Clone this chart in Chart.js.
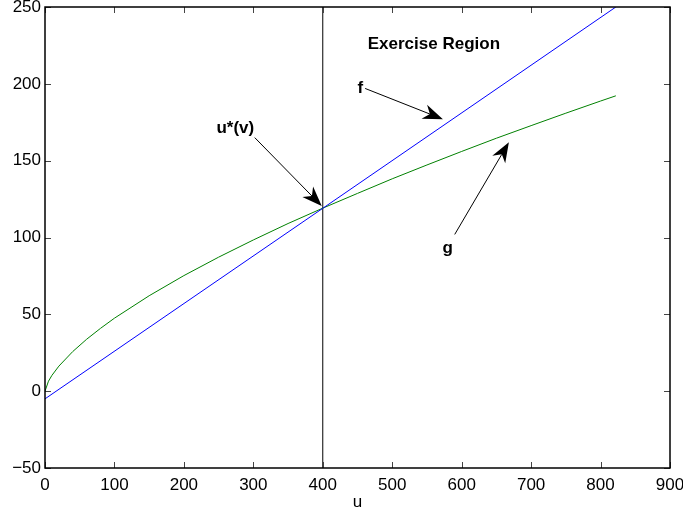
<!DOCTYPE html>
<html>
<head>
<meta charset="utf-8">
<script src="https://cdn.jsdelivr.net/npm/chart.js@4/dist/chart.umd.min.js"></script>
<style>
  html, body { margin: 0; padding: 0; background: #fff; }
  #wrap { width: 683px; height: 519px; position: relative; }
</style>
</head>
<body>
<div id="wrap"><canvas id="chart"></canvas></div>
<script>
// Datos
const uG = [0, 5, 10, 20, 40, 60, 80, 100, 150, 200, 250, 300, 350, 400, 450, 500, 550, 600, 650, 700, 750, 800, 822];
const gVals = [0, 6.5, 10.3, 16.3, 25.8, 33.8, 40.9, 47.5, 62.1, 75.2, 87.2, 98.4, 109.1, 119.1, 128.7, 138.2, 147.2, 156.0, 164.6, 172.8, 180.9, 188.8, 192.2];
const uF = [0, 400, 822];
const fVals = [-5, 119, 250];
const uStar = 400;
const yRange = [-50, 250];
const xRange = [0, 900];
const xTitle = 'u';

// Anotaciones (coordenadas de datos)
const labels = [
  { text: 'Exercise Region', x: 560, y: 226 },
  { text: 'f', x: 454, y: 197 },
  { text: 'u*(v)', x: 274, y: 171 },
  { text: 'g', x: 580, y: 93 }
];
const arrows = [
  { from: [461, 197], to: [573, 177] },
  { from: [302, 165], to: [398.5, 120.5] },
  { from: [590, 102], to: [668, 162] }
];

const FONT = "'Liberation Sans', Arial, Helvetica, sans-serif";

function pts(xs, ys) {
  return xs.map((x, i) => ({ x: x, y: ys[i] }));
}

// Caja, marcas hacia dentro y etiquetas al estilo MATLAB
const boxPlugin = {
  id: 'box',
  afterDatasetsDraw(chart) {
    const { ctx, chartArea: a, scales } = chart;
    ctx.save();
    ctx.strokeStyle = '#444';
    ctx.lineWidth = 1;
    const tl = 6;
    scales.x.ticks.forEach(t => {
      const px = Math.round(scales.x.getPixelForValue(t.value)) + 0.5;
      ctx.beginPath();
      ctx.moveTo(px, a.bottom); ctx.lineTo(px, a.bottom - tl);
      ctx.moveTo(px, a.top); ctx.lineTo(px, a.top + tl);
      ctx.stroke();
    });
    scales.y.ticks.forEach(t => {
      const py = Math.round(scales.y.getPixelForValue(t.value)) + 0.5;
      ctx.beginPath();
      ctx.moveTo(a.left, py); ctx.lineTo(a.left + tl, py);
      ctx.moveTo(a.right, py); ctx.lineTo(a.right - tl, py);
      ctx.stroke();
    });
    ctx.strokeStyle = '#000';
    ctx.lineWidth = 1.5;
    ctx.strokeRect(a.left, a.top, a.right - a.left, a.bottom - a.top);

    // etiquetas de los ejes
    ctx.fillStyle = '#000';
    ctx.font = '17px ' + FONT;
    ctx.textBaseline = 'middle';
    ctx.textAlign = 'center';
    scales.x.ticks.forEach(t => {
      ctx.fillText(String(t.value), scales.x.getPixelForValue(t.value), a.bottom + 17);
    });
    ctx.textAlign = 'right';
    scales.y.ticks.forEach(t => {
      ctx.fillText(String(t.value).replace('-', '\u2212'), a.left - 4, scales.y.getPixelForValue(t.value));
    });
    ctx.textAlign = 'center';
    ctx.fillText(xTitle, (a.left + a.right) / 2, a.bottom + 34);

    // anotaciones
    ctx.font = 'bold 17px ' + FONT;
    labels.forEach(l => {
      ctx.fillText(l.text, scales.x.getPixelForValue(l.x), scales.y.getPixelForValue(l.y));
    });
    arrows.forEach(ar => {
      const x0 = scales.x.getPixelForValue(ar.from[0]);
      const y0 = scales.y.getPixelForValue(ar.from[1]);
      const x1 = scales.x.getPixelForValue(ar.to[0]);
      const y1 = scales.y.getPixelForValue(ar.to[1]);
      const ang = Math.atan2(y1 - y0, x1 - x0);
      const L = 20, W = 7.5, N = 6;
      const c = Math.cos(ang), s = Math.sin(ang);
      ctx.strokeStyle = '#000';
      ctx.lineWidth = 1;
      ctx.beginPath();
      ctx.moveTo(x0, y0);
      ctx.lineTo(x1 - c * (L - N), y1 - s * (L - N));
      ctx.stroke();
      const bx = x1 - c * L, by = y1 - s * L;
      ctx.beginPath();
      ctx.moveTo(x1, y1);
      ctx.lineTo(bx - s * W, by + c * W);
      ctx.lineTo(x1 - c * (L - N), y1 - s * (L - N));
      ctx.lineTo(bx + s * W, by - c * W);
      ctx.closePath();
      ctx.fill();
    });
    ctx.restore();
  }
};

const chart = new Chart(document.getElementById('chart'), {
  type: 'scatter',
  data: {
    datasets: [
      {
        label: 'f',
        data: pts(uF, fVals),
        showLine: true,
        borderColor: '#0000ff',
        borderWidth: 1,
        pointRadius: 0,
        tension: 0
      },
      {
        label: 'g',
        data: pts(uG, gVals),
        showLine: true,
        borderColor: '#008000',
        borderWidth: 1,
        pointRadius: 0,
        tension: 0
      },
      {
        label: 'u*',
        data: pts([uStar, uStar], yRange),
        showLine: true,
        borderColor: '#000',
        borderWidth: 1,
        pointRadius: 0
      }
    ]
  },
  options: {
    responsive: true,
    maintainAspectRatio: false,
    animation: false,
    devicePixelRatio: 1,
    layout: { padding: { left: 0, right: 13, top: 7, bottom: 0 } },
    plugins: {
      legend: { display: false },
      tooltip: { enabled: false }
    },
    scales: {
      x: {
        min: xRange[0], max: xRange[1],
        grid: { display: false, drawTicks: false },
        border: { display: false },
        ticks: { stepSize: 100, display: false },
        afterFit(scale) { scale.height = 51; }
      },
      y: {
        min: yRange[0], max: yRange[1],
        grid: { display: false, drawTicks: false },
        border: { display: false },
        ticks: { stepSize: 50, display: false },
        afterFit(scale) { scale.width = 45; }
      }
    }
  },
  plugins: [boxPlugin]
});
</script>
</body>
</html>
